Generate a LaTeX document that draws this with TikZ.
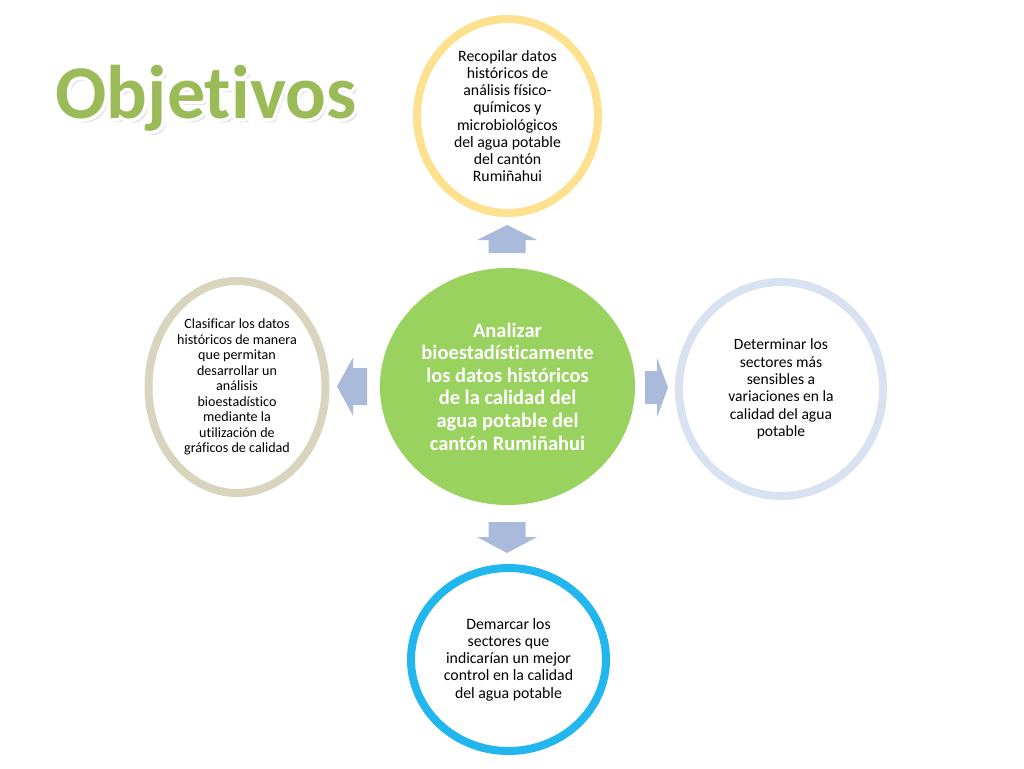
\documentclass[tikz,border=0pt]{standalone}
\usepackage{fontspec}
\setmainfont{Carlito}[Ligatures=NoCommon]
\usetikzlibrary{shapes.geometric}
\definecolor{ringTop}{HTML}{FDE18F}
\definecolor{ringLeft}{HTML}{D9D4BD}
\definecolor{ringRight}{HTML}{D8E2F0}
\definecolor{ringBottom}{HTML}{21B6EE}
\definecolor{hubGreen}{HTML}{99D25E}
\definecolor{titleGreen}{HTML}{9BBB59}
\definecolor{arrowBlue}{HTML}{A9BADB}
\newcommand\strokedtitle[1]{\special{pdf:literal direct 1 1 1 RG 6.5 w 1 j 2 Tr}#1\special{pdf:literal direct 0 Tr}}
\tikzset{
  ring/.style={ellipse, draw, line width=8pt, fill=white, inner sep=0pt, align=center, font=\fontsize{15.8}{17.2}\selectfont},
  hub/.style={ellipse, fill=hubGreen, inner sep=0pt, align=center, text=white, font=\bfseries\fontsize{20.5}{22.6}\selectfont},
  blockarrow/.style={fill=arrowBlue, draw=none},
  titletext/.style={anchor=base, inner sep=0pt, font=\bfseries\fontsize{76}{80}\selectfont}
}
\begin{document}
\begin{tikzpicture}[x=1pt,y=-1pt]
\useasboundingbox (0,0) rectangle (1024,768);
\fill[white] (0,0) rectangle (1024,768);
% title: soft shadow, white outline, green letters
\node[titletext, text=black!50, opacity=0.3] (titleshadow) at (209,122) {\strokedtitle{Objetivos}};
\node[titletext, text=white] (titleoutline) at (206,118) {\strokedtitle{Objetivos}};
\node[titletext, text=titleGreen] (title) at (206,118) {Objetivos};

% center hub
\node[hub, minimum width=255pt, minimum height=237pt] (hub) at (507.5,386.5)
  {Analizar\\bioestadísticamente\\los datos históricos\\de la calidad del\\agua potable del\\cantón Rumiñahui};

% outer rings
\node[ring, draw=ringTop, minimum width=181pt, minimum height=194pt] (top) at (507.5,116)
  {Recopilar datos\\históricos de\\análisis físico-\\químicos y\\microbiológicos\\del agua potable\\del cantón\\Rumiñahui};
\node[ring, draw=ringLeft, minimum width=177pt, minimum height=212pt, font=\fontsize{14.1}{15.5}\selectfont] (left) at (237,387)
  {Clasificar los datos\\históricos de manera\\que permitan\\desarrollar un\\análisis\\bioestadístico\\mediante la\\utilización de\\gráficos de calidad};
\node[ring, draw=ringRight, minimum width=204pt, minimum height=214pt, font=\fontsize{15.6}{17.4}\selectfont] (right) at (781,389)
  {Determinar los\\sectores más\\sensibles a\\variaciones en la\\calidad del agua\\potable};
\node[ring, draw=ringBottom, minimum width=195pt, minimum height=183pt, font=\fontsize{15.8}{17.3}\selectfont] (bottom) at (508.5,659.5)
  {Demarcar los\\sectores que\\indicarían un mejor\\control en la calidad\\del agua potable};

% block arrows
\coordinate (upA) at (507,240);
\fill[blockarrow] (upA) ++(-30,0) -- ++(30,-15) -- ++(30,15) -- ++(-11.5,0) -- ++(0,13) -- ++(-37,0) -- ++(0,-13) -- cycle;
\coordinate (downA) at (507,537);
\fill[blockarrow] (downA) ++(-30,0) -- ++(30,16) -- ++(30,-16) -- ++(-11.5,0) -- ++(0,-15) -- ++(-37,0) -- ++(0,15) -- cycle;
\coordinate (leftA) at (353,386.5);
\fill[blockarrow] (leftA) ++(0,-29) -- ++(-16,29) -- ++(16,29) -- ++(0,-10.5) -- ++(14,0) -- ++(0,-37) -- ++(-14,0) -- cycle;
\coordinate (rightA) at (657,387.5);
\fill[blockarrow] (rightA) ++(0,-29.5) -- ++(11,29.5) -- ++(-11,29.5) -- ++(0,-13) -- ++(-12,0) -- ++(0,-33) -- ++(12,0) -- cycle;
\end{tikzpicture}
\end{document}
